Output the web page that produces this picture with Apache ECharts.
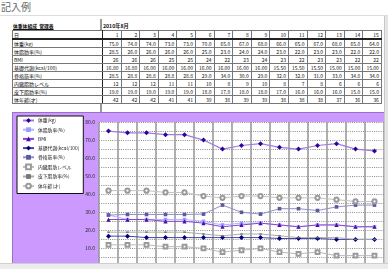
<!DOCTYPE html>
<html><head><meta charset="utf-8">
<script src="https://cdn.jsdelivr.net/npm/echarts@6/dist/echarts.min.js"></script>
<style>
html,body{margin:0;padding:0;width:388px;height:269px;overflow:hidden;background:#fff;font-family:"Noto Sans CJK JP","Liberation Sans",sans-serif;}
#title{position:absolute;left:1px;top:0px;font-size:10px;color:#666;line-height:13px;}
#topline{position:absolute;left:0;top:15px;width:388px;height:1px;background:#ddd;}
#pb{position:absolute;left:100px;top:19px;width:1.5px;height:93px;background:#999;}
#ttl{position:absolute;left:13px;top:22px;font-size:4.8px;font-weight:bold;text-decoration:underline;line-height:7px;color:#111;}
#mon{position:absolute;left:103px;top:22px;font-size:5.2px;font-weight:bold;line-height:7px;color:#111;}
#t{position:absolute;left:12px;top:30px;border-collapse:collapse;table-layout:fixed;width:369px;font-size:5px;color:#111;background:#fff;}
#t td{height:7px;line-height:7px;padding:0 2px 0 1px;border:1px solid #777;white-space:nowrap;overflow:hidden;text-align:right;}
#t td.lab{text-align:left;border-right:1.5px solid #222;}
#t tr.hd td{border-bottom:2px double #222;}
#t{border:1.2px solid #222;}
#purple{position:absolute;left:12px;top:112px;width:376px;height:157px;background:#cc99ff;border-left:1px solid #9a70c8;border-top:1px solid #9a70c8;}
#chart{position:absolute;left:0;top:0;width:388px;height:269px;}
#shr{position:absolute;left:384px;top:16px;width:4px;height:253px;background:#e4e4e4;border-left:1px solid #c8c8c8;}
#shb{position:absolute;left:0;top:263px;width:388px;height:6px;background:#ececec;border-top:1px solid #cfcfcf;}
</style></head>
<body>
<div id="title">記入例</div>
<div id="topline"></div>
<div id="ttl">体重体組成&nbsp;&nbsp;管理表</div>
<div id="mon">2010年8月</div>
<div id="pb"></div>
<table id="t"></table>
<div id="purple"></div>
<div id="chart"></div>
<div id="shr"></div>
<div id="shb"></div>
<script>
// ---- data ----
const days = ['1','2','3','4','5','6','7','8','9','10','11','12','13','14','15'];
const weight   = [75.0,74.0,74.0,73.0,73.0,70.0,65.0,67.0,68.0,66.0,65.0,67.0,68.0,65.0,64.0];
const bodyFat  = [28.5,26.0,26.0,26.0,26.0,25.0,23.0,24.0,24.0,23.0,22.0,23.0,23.0,22.0,22.0];
const bmi      = [26,26,26,25,25,24,22,23,24,23,22,23,23,22,22];
const bmr      = [16.80,16.80,16.00,16.00,16.00,16.00,16.00,16.00,16.00,15.50,15.50,15.50,15.00,15.00,15.00];
const muscle   = [28.5,28.8,28.8,28.8,28.8,29.0,34.0,30.0,29.0,32.0,32.0,31.0,33.0,34.0,34.0];
const visceral = [12,12,12,11,11,10,8,9,10,8,7,8,6,6,6];
const subcut   = [19.0,19.0,19.0,19.0,19.0,18.0,17.0,18.0,18.0,17.0,16.0,16.0,16.0,15.0,15.0];
const bodyAge  = [42,42,42,41,41,39,38,39,39,38,38,38,37,36,36];
const dayHeader = '日';
const rowNames = ['体重(kg)','体脂肪率(%)','BMI','基礎代謝(kcal/100)','骨格筋率(%)','内臓脂肪レベル','皮下脂肪率(%)','体年齢(才)'];
const yTicks = [0,10,20,30,40,50,60,70,80];

// ---- table ----
const rows = [weight,bodyFat,bmi,bmr,muscle,visceral,subcut,bodyAge];
const decs = [1,1,0,2,1,0,1,0];
let h = '<colgroup><col style="width:90px">' + days.map(()=>'<col style="width:18.6px">').join('') + '</colgroup>';
h += '<tr class="hd"><td class="lab">' + dayHeader + '</td>' + days.map(d=>'<td>'+d+'</td>').join('') + '</tr>';
rows.forEach((r,i)=>{
  h += '<tr><td class="lab">' + rowNames[i] + '</td>' + r.map(v=>'<td>'+v.toFixed(decs[i])+'</td>').join('') + '</tr>';
});
document.getElementById('t').innerHTML = h;

// ---- chart ----
const styles = [
  {line:'#a07ddc', mark:'#3300a0', sym:'diamond', size:5, w:1.2},
  {line:'#b0b4ff', mark:'#9c9cff', sym:'rect', size:3.6, w:1},
  {line:'#8845d8', mark:'#4a0fa8', sym:'triangle', size:4.2, w:1},
  {line:'#4545a8', mark:'#000080', sym:'diamond', size:5, w:1},
  {line:'#9090cc', mark:'#5a5a9c', sym:'rect', size:3.6, w:1},
  {line:'#b8b8b8', mark:'#9a9a9a', sym:'emptyRect', size:3.8, w:1},
  {line:'#ababab', mark:'#777', sym:'rect', size:[2.5,1.5], w:1},
  {line:'#c2c2c2', mark:'#9a9a9a', sym:'emptyCircle', size:4.2, w:1}
];
const chart = echarts.init(document.getElementById('chart'), null, {renderer:'canvas'});
chart.setOption({
  animation:false,
  backgroundColor:'transparent',
  textStyle:{fontFamily:'"Noto Sans CJK JP","Liberation Sans",sans-serif'},
  legend:{
    orient:'vertical', left:17, top:116,
    backgroundColor:'#fff', borderColor:'#111', borderWidth:1,
    padding:[1.5,4,4,5],
    itemWidth:11, itemHeight:6, itemGap:3.2,
    textStyle:{fontSize:4.8, lineHeight:6, color:'#222', padding:[0,0,0,-1]},
    data:rowNames
  },
  grid:{left:99, top:122, width:285, height:164, show:true, backgroundColor:'#fff', borderWidth:0},
  xAxis:{
    type:'category', data:days, boundaryGap:true,
    axisLine:{show:false}, axisTick:{show:false}, axisLabel:{show:false},
    splitLine:{show:true, interval:0, lineStyle:{color:'#9a9a9a', width:1.6}}
  },
  yAxis:{
    type:'value', min:0, max:80, interval:5,
    axisLine:{show:false}, axisTick:{show:false},
    axisLabel:{fontSize:5, color:'#222', margin:4,
      formatter:v=> yTicks.indexOf(v)>=0 ? v.toFixed(1) : ''},
    splitLine:{show:true, lineStyle:{color:'#8a8a8a', width:1, type:[1,1.2]}}
  },
  series: rows.map((r,i)=>({
    name:rowNames[i], type:'line', data:r,
    symbol:styles[i].sym, symbolSize:styles[i].size, showSymbol:true,
    lineStyle:{color:styles[i].line, width:styles[i].w},
    itemStyle:{color:styles[i].mark, borderColor:styles[i].mark, borderWidth: (styles[i].sym.indexOf('empty')===0?1:0)},
    emphasis:{disabled:true}
  }))
});
</script>
</body></html>
